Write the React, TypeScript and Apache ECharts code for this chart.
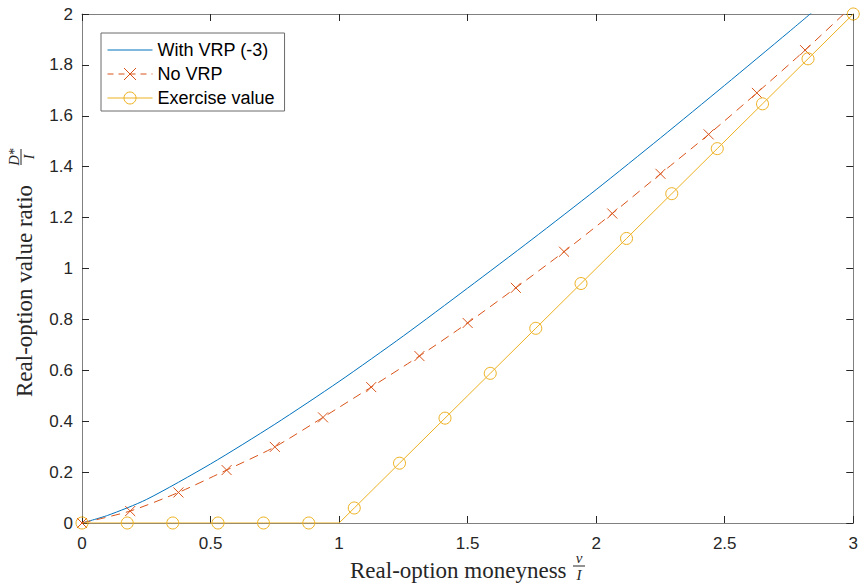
import React, { useEffect, useRef } from 'react';
import * as echarts from 'echarts';

// With VRP (-3) curve (blue, solid)
const vrpX = [0, 0.1, 0.25, 0.5, 0.75, 1.0, 1.25, 1.5, 1.75, 2.0, 2.25, 2.5, 2.75, 2.85];
const vrpY = [0, 0.03, 0.092, 0.232, 0.388, 0.556, 0.735, 0.923, 1.114, 1.31, 1.513, 1.72, 1.93, 2.015];

// No VRP curve (red, dashed, x markers)
const noVrpX = [0, 0.1875, 0.375, 0.5625, 0.75, 0.9375, 1.125, 1.3125, 1.5, 1.6875, 1.875, 2.0625, 2.25, 2.4375, 2.625, 2.8125, 3.0];
const noVrpY = [0, 0.047, 0.12, 0.208, 0.299, 0.415, 0.534, 0.656, 0.786, 0.924, 1.066, 1.216, 1.372, 1.527, 1.69, 1.858, 2.035];

// Exercise value (yellow, circle markers)
const exX = [0, 0.176, 0.353, 0.529, 0.706, 0.882, 1.059, 1.235, 1.412, 1.588, 1.765, 1.941, 2.118, 2.294, 2.471, 2.647, 2.824, 3.0];
const exY = [0, 0, 0, 0, 0, 0, 0.059, 0.235, 0.412, 0.588, 0.765, 0.941, 1.118, 1.294, 1.471, 1.647, 1.824, 2.0];
// kink of the exercise-value line (no marker)
const exKinkX = 1.0;
const exKinkY = 0;

const seriesNames = ['With VRP (-3)', 'No VRP', 'Exercise value'];

const BLUE = '#0072BD';
const RED = '#D95319';
const YELLOW = '#EDB120';
const AXIS = '#808080';
const TXT = '#262626';
const XMARK = 'path://M0 0L10 10M0 10L10 0';
const DASH = [9, 6];

export default function App() {
  const ref = useRef<HTMLDivElement>(null);
  useEffect(() => {
    const chart = echarts.init(ref.current as HTMLDivElement, null, { renderer: 'svg' });

    const exData: any[] = [];
    exX.forEach((x, i) => {
      if (i > 0 && exX[i - 1] < exKinkX && x > exKinkX) {
        exData.push({ value: [exKinkX, exKinkY], symbol: 'none' });
      }
      exData.push([x, exY[i]]);
    });

    const xCommon = {
      type: 'value',
      min: 0,
      max: 3,
      interval: 0.5,
      axisLine: { show: true, onZero: false, lineStyle: { color: AXIS, width: 1 } },
      axisTick: { show: true, inside: true, length: 7, lineStyle: { color: TXT, width: 1 } },
      splitLine: { show: false },
    };
    const yCommon = {
      type: 'value',
      min: 0,
      max: 2,
      interval: 0.2,
      axisLine: { show: true, onZero: false, lineStyle: { color: AXIS, width: 1 } },
      axisTick: { show: true, inside: true, length: 7, lineStyle: { color: TXT, width: 1 } },
      splitLine: { show: false },
    };
    const labelStyle = { fontSize: 17, color: TXT, fontFamily: 'Liberation Sans' };

    chart.setOption({
      animation: false,
      backgroundColor: '#fff',
      grid: { left: 82, right: 4, top: 14, bottom: 62, containLabel: false },
      xAxis: [
        { ...xCommon, position: 'bottom', axisLabel: { ...labelStyle, margin: 12 } },
        { ...xCommon, position: 'top', axisLabel: { show: false } },
      ],
      yAxis: [
        { ...yCommon, position: 'left', axisLabel: { ...labelStyle, margin: 9 } },
        { ...yCommon, position: 'right', axisLabel: { show: false } },
      ],
      legend: {
        show: true,
        orient: 'vertical',
        left: 101,
        top: 33,
        backgroundColor: '#fff',
        borderColor: '#6a6a6a',
        borderWidth: 1,
        borderRadius: 0,
        padding: [8, 10, 4, 6],
        itemWidth: 45,
        itemHeight: 15,
        itemGap: 6,
        selectedMode: false,
        textStyle: { fontSize: 18, color: '#000', fontFamily: 'Liberation Sans' },
        data: [
          { name: seriesNames[0], itemStyle: { opacity: 0 }, lineStyle: { color: BLUE, width: 1, type: 'solid' } },
          {
            name: seriesNames[1],
            itemStyle: { color: 'transparent', borderColor: RED, borderWidth: 1, opacity: 1 },
            lineStyle: { color: RED, width: 1, type: [6, 5] },
          },
          {
            name: seriesNames[2],
            itemStyle: { color: 'transparent', borderColor: YELLOW, borderWidth: 1, opacity: 1 },
            lineStyle: { color: YELLOW, width: 1, type: 'solid' },
          },
        ],
      },
      series: [
        {
          type: 'line',
          name: seriesNames[0],
          data: vrpX.map((x, i) => [x, vrpY[i]]),
          symbol: 'none',
          smooth: 0.25,
          clip: true,
          silent: true,
          itemStyle: { color: BLUE },
          lineStyle: { color: BLUE, width: 1 },
        },
        {
          type: 'line',
          name: seriesNames[1],
          data: noVrpX.map((x, i) => [x, noVrpY[i]]),
          symbol: XMARK,
          symbolSize: 10,
          showAllSymbol: true,
          smooth: 0.25,
          clip: true,
          silent: true,
          itemStyle: { color: 'transparent', borderColor: RED, borderWidth: 1 },
          lineStyle: { color: RED, width: 1, type: DASH },
        },
        {
          type: 'line',
          name: seriesNames[2],
          data: exData,
          symbol: 'circle',
          symbolSize: 12,
          showAllSymbol: true,
          clip: true,
          silent: true,
          itemStyle: { color: 'transparent', borderColor: YELLOW, borderWidth: 1 },
          lineStyle: { color: YELLOW, width: 1 },
        },
      ],
      graphic: [
        {
          type: 'group',
          x: 469,
          y: 570,
          silent: true,
          children: [
            {
              type: 'text',
              x: -119,
              y: 0,
              style: { text: 'Real-option moneyness', fontSize: 23, fontFamily: 'Liberation Serif', fill: TXT, align: 'left', verticalAlign: 'middle' },
            },
            {
              type: 'text',
              x: 110,
              y: -12,
              style: { text: 'ν', fontSize: 15, fontStyle: 'italic', fontFamily: 'Liberation Serif', fill: TXT, align: 'center', verticalAlign: 'middle' },
            },
            { type: 'line', shape: { x1: 104, y1: -4, x2: 116, y2: -4 }, style: { stroke: TXT, lineWidth: 1 } },
            {
              type: 'text',
              x: 110,
              y: 5,
              style: { text: 'I', fontSize: 15, fontStyle: 'italic', fontFamily: 'Liberation Serif', fill: TXT, align: 'center', verticalAlign: 'middle' },
            },
          ],
        },
        {
          type: 'group',
          x: 24,
          y: 273,
          rotation: Math.PI / 2,
          silent: true,
          children: [
            {
              type: 'text',
              x: -124,
              y: 0,
              style: { text: 'Real-option value ratio', fontSize: 23, fontFamily: 'Liberation Serif', fill: TXT, align: 'left', verticalAlign: 'middle' },
            },
            {
              type: 'text',
              x: 116,
              y: -10,
              style: { text: 'D*', fontSize: 14, fontStyle: 'italic', fontFamily: 'Liberation Serif', fill: TXT, align: 'center', verticalAlign: 'middle' },
            },
            { type: 'line', shape: { x1: 108, y1: -3, x2: 124, y2: -3 }, style: { stroke: TXT, lineWidth: 1 } },
            {
              type: 'text',
              x: 116,
              y: 5,
              style: { text: 'I', fontSize: 14, fontStyle: 'italic', fontFamily: 'Liberation Serif', fill: TXT, align: 'center', verticalAlign: 'middle' },
            },
          ],
        },
      ],
    });

    return () => chart.dispose();
  }, []);

  return <div ref={ref} style={{ position: 'fixed', left: 0, top: 0, width: 861, height: 585 }} />;
}
